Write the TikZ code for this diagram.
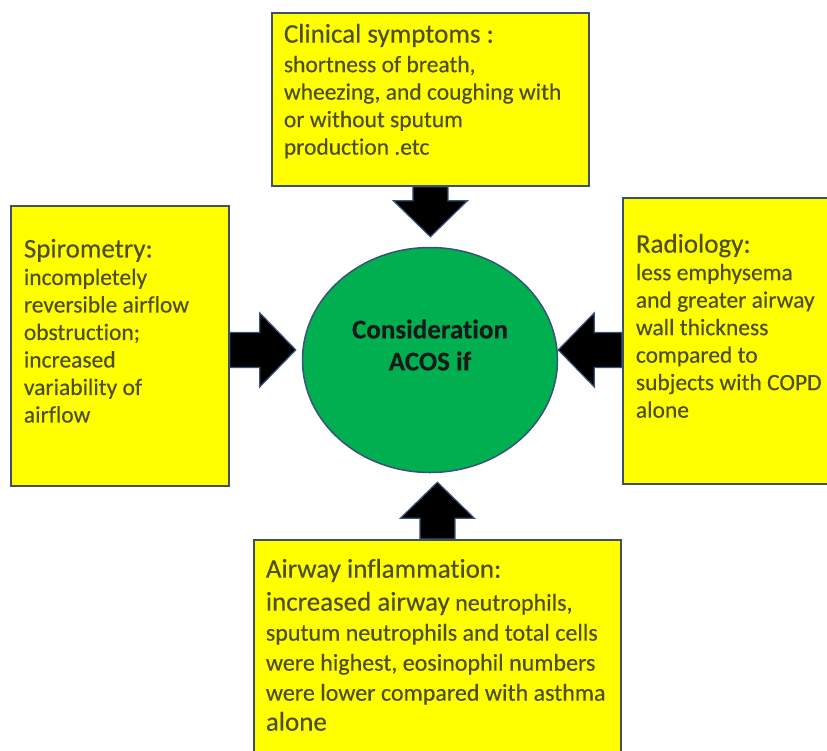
\documentclass[tikz,border=0pt]{standalone}
\usepackage{fontspec}
\setmainfont{Carlito}[Ligatures=NoCommon, FakeBold=0.3]
\usetikzlibrary{calc,shapes.geometric}
\definecolor{acyellow}{RGB}{255,255,0}
\definecolor{acgreen}{RGB}{0,176,80}
\definecolor{acedge}{RGB}{64,80,100}
\definecolor{acblue}{RGB}{56,83,120}
\definecolor{actext}{RGB}{78,78,34}
\newcommand{\bodysize}{\fontsize{23.5}{27.5}\selectfont}
\newcommand{\headsize}{\fontsize{27}{30}\selectfont}
\tikzset{
  infobox/.style 2 args={draw=acedge, line width=1.8pt, fill=acyellow, text=actext,
                         anchor=north west, inner xsep=12pt, font=\bodysize,
                         execute at begin node={\begin{minipage}[c][#2][t]{#1}\raggedright},
                         execute at end node={\end{minipage}}},
  hub/.style={draw=acblue, line width=1.5pt, fill=acgreen, ellipse, inner sep=0pt,
              minimum width=255pt, minimum height=225pt},
  blockarrow/.style={draw=acblue, line width=1.2pt, fill=black, line join=miter,
                     to path={-- ($(\tikztostart)!17.5pt!90:(\tikztotarget)$)
                              -- ($(\tikztotarget)!36pt!(\tikztostart)!17.5pt!90:(\tikztotarget)$)
                              -- ($(\tikztotarget)!36pt!(\tikztostart)!37pt!90:(\tikztotarget)$)
                              -- (\tikztotarget)
                              -- ($(\tikztotarget)!36pt!(\tikztostart)!37pt!-90:(\tikztotarget)$)
                              -- ($(\tikztotarget)!36pt!(\tikztostart)!17.5pt!-90:(\tikztotarget)$)
                              -- ($(\tikztostart)!17.5pt!-90:(\tikztotarget)$) -- cycle}},
}
\begin{document}
\begin{tikzpicture}[x=1pt, y=-1pt]
\useasboundingbox (0,0) rectangle (827,750);
% centre
\node[hub] (hub) at (430,360) {};
\node[font=\fontsize{27}{32}\selectfont\bfseries, text=black!90, align=center] (acos) at ([yshift=15pt]hub.center) {Consideration\\ACOS if};
% the four boxes
\node[infobox={293pt}{151pt}, inner ysep=11pt] (symptoms) at (271,12) {%
{\headsize Clinical symptoms :}\\[2pt]
shortness of breath,\\
wheezing, and coughing with\\
or without sputum\\
production .etc};
\node[infobox={192pt}{214pt}, inner xsep=13pt, inner ysep=33pt] (spiro) at (10,205) {%
{\headsize Spirometry:}\\
incompletely\\
reversible airflow\\
obstruction;\\
increased\\
variability of\\
airflow};
\node[infobox={196pt}{214pt}, inner xsep=13pt, inner ysep=36pt] (radio) at (622,197) {%
{\headsize Radiology:}\\
less emphysema\\
and greater airway\\
wall thickness\\
compared to\\
subjects with COPD\\
alone};
\node[infobox={343pt}{175pt}, inner ysep=19pt, font=\fontsize{24}{30}\selectfont] (inflam) at (253,539) {%
{\headsize Airway inflammation:}\\[3pt]
{\headsize increased airway} neutrophils,\\
sputum neutrophils and total cells\\
were highest, eosinophil numbers\\
were lower compared with asthma\\
{\headsize alone}};
% arrow tips
\coordinate (tipT) at ($(symptoms.south |- hub.north)+(0,-10)$);
\coordinate (tipL) at ($(spiro.east -| hub.west)+(-6,4)$);
\coordinate (tipR) at ($(radio.west -| hub.east)+(0,9)$);
\coordinate (tipB) at ($(inflam.north |- hub.south)+(0,9)$);
\draw[blockarrow] (symptoms.south) to (tipT);
\draw[blockarrow] ([yshift=-4pt]spiro.east) to (tipL);
\draw[blockarrow] ([yshift=-9pt]radio.west) to (tipR);
\draw[blockarrow] (inflam.north) to (tipB);
\end{tikzpicture}
\end{document}
